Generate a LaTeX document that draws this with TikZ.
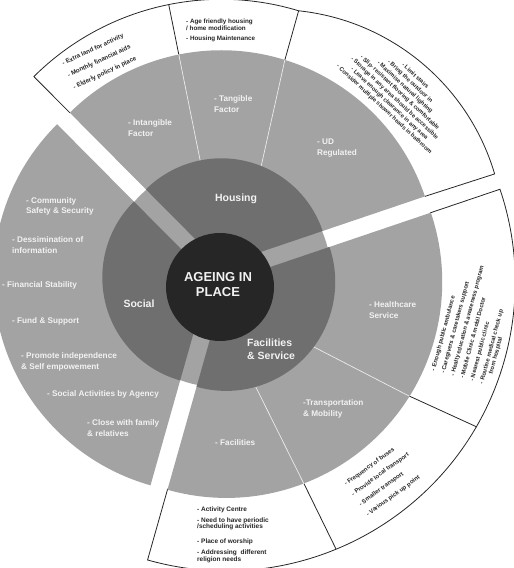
\documentclass[tikz,border=0pt]{standalone}
\usepackage{fontspec}
\setmainfont{Liberation Sans}
\definecolor{outergray}{HTML}{A3A3A3}
\definecolor{midgray}{HTML}{6F6F6F}
\definecolor{coredark}{HTML}{262626}
\begin{document}
\begin{tikzpicture}[x=1pt,y=1pt,
  boxline/.style={draw=black!85,line width=0.8pt},
  splitline/.style={draw=white!92!black,line width=0.7pt},
  sublabel/.style={text=white!95!black,font={\fontsize{8.2}{10.5}\selectfont\bfseries},align=left,anchor=west,inner sep=0pt},
  mainlabel/.style={text=white!95!black,font={\fontsize{10.5}{12.5}\selectfont\bfseries},inner sep=0pt},
  boxtext/.style={text=black!85,inner sep=0pt}]
\useasboundingbox (0,0) rectangle (514,568);
\clip (0,0) rectangle (514,568);

% centres of the exploded sectors and of the core
\coordinate (O) at (219,293);
\coordinate (H) at (221.3,302.7);
\coordinate (S) at (209.3,290.5);
\coordinate (F) at (226.25,286.1);
\coordinate (C) at (220,281);

% outer text bands (white boxes with black rims)
\begin{scope}[shift={(H)}]
  \draw[boxline] (134.8:215) -- (134.8:266)
     arc[start angle=134.8,end angle=73.1,radius=266]
     arc[start angle=84,end angle=16.46,radius=229.4] -- (18.7:215);
  \draw[boxline] (101.4:215) -- (101.4:266);
  \draw[boxline] (72.8:215) -- (73.1:266);
\end{scope}
\begin{scope}[shift={(F)}]
  \draw[boxline] (-105.8:215) -- (-105.8:289)
     arc[start angle=-105.8,end angle=18.7,radius=289] -- (18.7:215);
  \draw[boxline] (-31.98:215) -- (-30.06:289.7);
  \draw[boxline] (-68.96:215) -- (-67.66:288.8);
\end{scope}

% light grey outer ring, one pie per theme
\fill[outergray] (H) -- ++(18.7:215) arc[start angle=18.7,end angle=134.8,radius=215] -- cycle;
\fill[outergray] (S) -- ++(134.8:216) arc[start angle=134.8,end angle=254.2,radius=216] -- cycle;
\fill[outergray] (F) -- ++(-105.8:216) arc[start angle=-105.8,end angle=18.7,radius=216] -- cycle;

% thin white dividers between sub-factors
\begin{scope}[shift={(H)}]
  \draw[splitline] (101.4:107) -- (101.4:215);
  \draw[splitline] (68.1:107) -- (72.8:215);
\end{scope}
\begin{scope}[shift={(F)}]
  \draw[splitline] (-36.6:109) -- (-31.98:215.4);
  \draw[splitline] (-74.3:109) -- (-68.96:216.5);
\end{scope}

% middle ring with light grey gaps
\fill[outergray] (O) circle[radius=112];
\fill[midgray] (H) -- ++(18.7:107) arc[start angle=18.7,end angle=134.8,radius=107] -- cycle;
\fill[midgray] (S) -- ++(134.8:107) arc[start angle=134.8,end angle=254.2,radius=107] -- cycle;
\fill[midgray] (F) -- ++(-105.8:109) arc[start angle=-105.8,end angle=18.7,radius=109] -- cycle;

% core
\fill[coredark] (C) circle[radius=54];
\node[text=white!95!black,font={\fontsize{13}{15}\selectfont\bfseries},align=center,inner sep=0pt] (core) at (218,283) {AGEING IN\\PLACE};

% themes
\node[mainlabel] (housing) at (236,369) {Housing};
\node[mainlabel] (social) at (139,264) {Social};
\node[mainlabel,align=left,anchor=west] (facil) at (247,218.75) {Facilities\\\& Service};

% sub-factors in the grey ring
\node[sublabel] (intang) at (128,440) {- Intangible\\Factor};
\node[sublabel] (tang) at (214,464) {- Tangible\\Factor};
\node[sublabel] (ud) at (317,420) {- UD\\Regulated};
\node[sublabel] (s1) at (26,361.5) {- Community\\Safety \& Security};
\node[sublabel] (s2) at (12,323) {- Dessimination of\\information};
\node[sublabel] (s3) at (2,283) {- Financial Stability};
\node[sublabel] (s4) at (12,247) {- Fund \& Support};
\node[sublabel] (s5) at (21,206) {- Promote independence\\\& Self empowement};
\node[sublabel] (s6) at (47,174) {- Social Activities by Agency};
\node[sublabel] (s7) at (87,140) {- Close with family\\\& relatives};
\node[sublabel] (health) at (369,258) {- Healthcare\\Service};
\node[sublabel] (transp) at (303,159) {-Transportation\\\& Mobility};
\node[sublabel] (facs) at (215,125) {- Facilities};

% details in the white bands
\node[boxtext,rotate=25,anchor=west,align=left,font={\fontsize{6.2}{13}\selectfont\bfseries}] (tIntang) at (68,492)
  {- Extra land for activity\\- Monthly financial aids\\- Elderly policy in place};
\node[boxtext,anchor=north west,align=left,font={\fontsize{6.3}{6.6}\selectfont\bfseries}] (tTang) at (186,549)
  {- Age friendly housing\\/ home modification\\[3.4pt]- Housing Maintenance};
\node[boxtext,rotate=-43,align=center,font={\fontsize{5.8}{7.6}\selectfont\bfseries}] (tUD) at (399.7,475.2)
  {- Limit stairs\\- Bring the outdoor in\\- Maximise natural lighting\\- Slip- resistant flooring \& comfortable\\- Storage in any area should be accessible\\- Leave enough clearance in any area\\- Consider multiple shower heads in bathroom};
\node[boxtext,rotate=75,anchor=west,align=left,font={\fontsize{5.9}{10}\selectfont\bfseries}] (tHealth) at (460.7,189.7)
  {- Enough public ambulance\\- Caregivers \& caretakers support\\- Healty education \& awareness program\\- Mobile Clinic \& mobil Doctor\\- Nearest public clinic\\- Routine medical check up\\[-3.5pt]\hspace*{12pt}from hospital};
\node[boxtext,rotate=36,anchor=west,align=left,font={\fontsize{6}{12.5}\selectfont\bfseries}] (tTransp) at (356,68)
  {- Frequency of buses\\- Provide local transport\\- Smaller transport\\- Various pick up point};
\node[boxtext,anchor=north west,align=left,font={\fontsize{6.5}{6.7}\selectfont\bfseries}] (tFacs) at (197,61.7)
  {- Activity Centre\\[4.3pt]- Need to have periodic\\/scheduling activities\\[8.3pt]- Place of worship\\[4.3pt]- Addressing\ \ different\\religion needs};
\end{tikzpicture}
\end{document}
